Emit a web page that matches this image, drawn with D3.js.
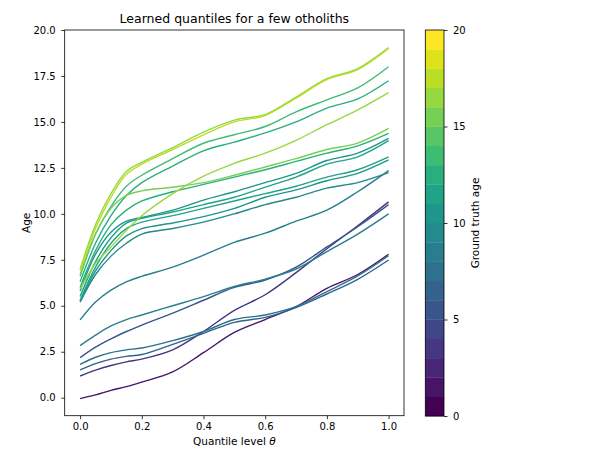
<!DOCTYPE html>
<html>
<head>
<meta charset="utf-8">
<script src="https://cdn.jsdelivr.net/npm/d3@7"></script>
<style>
  body { margin: 0; background: #fff; }
  text { font-family: "DejaVu Sans", sans-serif; fill: #000; }
</style>
</head>
<body>
<script>
var thetas = [0, 0.05, 0.1, 0.15, 0.2, 0.3, 0.4, 0.5, 0.6, 0.7, 0.8, 0.9, 1.0];

// ground truth age of each otolith (colour)
var ages = [1, 3, 5, 6, 7, 8, 8, 9, 10, 10, 11, 11, 12, 12, 13, 15, 16, 16, 17];

// predicted age per quantile level, one row per otolith
var quantiles = [
    [-0.05, 0.15, 0.4, 0.6, 0.85, 1.4, 2.45, 3.55, 4.25, 4.95, 5.95, 6.7, 7.8],
    [1.18, 1.5, 1.75, 1.95, 2.1, 2.6, 3.6, 4.75, 5.6, 6.8, 8.1, 9.35, 10.65],
    [2.18, 2.75, 3.2, 3.6, 3.95, 4.6, 5.3, 6.0, 6.4, 7.1, 8.2, 9.3, 10.5],
    [1.51, 1.85, 2.1, 2.25, 2.35, 2.9, 3.5, 4.1, 4.37, 4.9, 5.64, 6.44, 7.49],
    [1.81, 2.2, 2.45, 2.6, 2.7, 3.1, 3.6, 4.25, 4.5, 4.95, 5.77, 6.62, 7.72],
    [2.83, 3.4, 3.9, 4.25, 4.5, 5.0, 5.5, 6.05, 6.45, 7.0, 7.95, 8.9, 10.0],
    [4.23, 5.2, 5.85, 6.3, 6.6, 7.1, 7.75, 8.45, 8.95, 9.6, 10.2, 11.2, 12.35],
    [5.2, 6.7, 7.7, 8.4, 8.9, 9.2, 9.55, 10.0, 10.5, 10.9, 11.4, 11.7, 12.24],
    [5.8, 7.8, 9.0, 9.6, 9.8, 10.2, 10.75, 11.2, 11.7, 12.2, 12.9, 13.3, 14.1],
    [5.25, 6.9, 8.0, 8.8, 9.2, 9.5, 9.85, 10.3, 10.9, 11.3, 11.8, 12.2, 12.93],
    [5.5, 7.4, 8.7, 9.5, 9.75, 10.1, 10.5, 10.9, 11.45, 12.0, 12.7, 13.1, 13.98],
    [5.3, 7.1, 8.4, 9.2, 9.55, 9.9, 10.3, 10.7, 11.1, 11.5, 12.0, 12.4, 13.1],
    [6.0, 8.0, 9.4, 10.2, 10.7, 11.2, 11.6, 12.0, 12.4, 12.85, 13.3, 13.7, 14.38],
    [6.3, 8.4, 9.9, 11.0, 11.7, 12.6, 13.43, 13.9, 14.4, 15.0, 15.75, 16.25, 17.24],
    [6.6, 8.9, 10.4, 11.5, 12.1, 13.0, 13.84, 14.3, 14.75, 15.55, 16.2, 16.85, 18.0],
    [6.7, 8.9, 10.3, 11.0, 11.25, 11.45, 11.7, 12.1, 12.55, 13.0, 13.5, 13.85, 14.65],
    [5.9, 7.3, 8.2, 9.1, 9.9, 11.1, 12.05, 12.75, 13.3, 14.0, 14.85, 15.65, 16.59],
    [7.0, 9.4, 11.1, 12.3, 12.8, 13.6, 14.45, 15.1, 15.4, 16.35, 17.35, 17.9, 19.04],
    [6.9, 9.2, 10.9, 12.15, 12.7, 13.5, 14.3, 15.0, 15.35, 16.3, 17.3, 17.85, 19.0]
];

var xTicks = [0, 0.2, 0.4, 0.6, 0.8, 1.0];
var yTicks = [0, 2.5, 5, 7.5, 10, 12.5, 15, 17.5, 20];
var cbTicks = [0, 5, 10, 15, 20];
var nLevels = 20;

var svg = d3.select('body').append('svg')
    .attr('width', 603)
    .attr('height', 458);

var margin = { top: 30, left: 64.7, right: 404, bottom: 415.7 };

var x = d3.scaleLinear().domain([-0.05, 1.05]).range([margin.left, margin.right]);
var y = d3.scaleLinear().domain([-0.98, 20]).range([margin.bottom, margin.top]);

// discrete viridis, one colour per year of age
var color = function (a) {
    var k = Math.max(0, Math.min(nLevels - 1, Math.floor(a)));
    return d3.interpolateViridis(k / (nLevels - 1));
};

var line = d3.line()
    .x(function (d, i) { return x(thetas[i]); })
    .y(function (d) { return y(d); })
    .curve(d3.curveCatmullRom.alpha(0.5));

var plot = svg.append('g');
plot.selectAll('path.q').data(quantiles)
    .enter().append('path')
    .attr('class', 'q')
    .attr('d', line)
    .attr('fill', 'none')
    .attr('stroke', function (d, i) { return color(ages[i]); })
    .attr('stroke-width', 1.4);

// axes
var xAxis = svg.append('g')
    .attr('transform', 'translate(0,' + margin.bottom + ')')
    .call(d3.axisBottom(x).tickValues(xTicks).tickFormat(d3.format('.1f')).tickSize(3.5).tickPadding(4));
var yAxis = svg.append('g')
    .attr('transform', 'translate(' + margin.left + ',0)')
    .call(d3.axisLeft(y).tickValues(yTicks).tickFormat(d3.format('.1f')).tickSize(3.5).tickPadding(5.5));

[xAxis, yAxis].forEach(function (g) {
    g.select('.domain').remove();
    g.selectAll('text').attr('font-size', 10).attr('font-family', 'DejaVu Sans').attr('fill', '#000');
    g.selectAll('line').attr('stroke', '#000').attr('stroke-width', 0.8);
});

svg.append('rect')
    .attr('x', margin.left).attr('y', margin.top)
    .attr('width', margin.right - margin.left)
    .attr('height', margin.bottom - margin.top)
    .attr('fill', 'none')
    .attr('stroke', '#000')
    .attr('stroke-width', 0.8);

svg.append('text')
    .attr('x', (margin.left + margin.right) / 2).attr('y', 23)
    .attr('text-anchor', 'middle')
    .attr('font-size', 12.5)
    .text('Learned quantiles for a few otholiths');

var xl = svg.append('text')
    .attr('x', (margin.left + margin.right) / 2).attr('y', 444.5)
    .attr('text-anchor', 'middle')
    .attr('font-size', 10.5);
xl.append('tspan').text('Quantile level ');
xl.append('tspan').attr('font-style', 'italic').text('θ');

svg.append('text')
    .attr('transform', 'translate(30,' + ((margin.top + margin.bottom) / 2) + ') rotate(-90)')
    .attr('text-anchor', 'middle')
    .attr('font-size', 10.5)
    .text('Age');

// colorbar
var cb = { left: 425.3, right: 444, top: 30, bottom: 416 };
var yc = d3.scaleLinear().domain([0, nLevels]).range([cb.bottom, cb.top]);

svg.append('g').selectAll('rect').data(d3.range(nLevels))
    .enter().append('rect')
    .attr('x', cb.left)
    .attr('y', function (d) { return yc(d + 1); })
    .attr('width', cb.right - cb.left)
    .attr('height', function (d) { return yc(d) - yc(d + 1) + 0.3; })
    .attr('fill', function (d) { return color(d); });

svg.append('rect')
    .attr('x', cb.left).attr('y', cb.top)
    .attr('width', cb.right - cb.left)
    .attr('height', cb.bottom - cb.top)
    .attr('fill', 'none')
    .attr('stroke', '#000')
    .attr('stroke-width', 0.8);

var cAxis = svg.append('g')
    .attr('transform', 'translate(' + cb.right + ',0)')
    .call(d3.axisRight(yc).tickValues(cbTicks).tickFormat(d3.format('d')).tickSize(3.5).tickPadding(5.5));
cAxis.select('.domain').remove();
cAxis.selectAll('text').attr('font-size', 10).attr('font-family', 'DejaVu Sans').attr('fill', '#000');
cAxis.selectAll('line').attr('stroke', '#000').attr('stroke-width', 0.8);

svg.append('text')
    .attr('transform', 'translate(479,' + ((cb.top + cb.bottom) / 2) + ') rotate(-90)')
    .attr('text-anchor', 'middle')
    .attr('font-size', 10.5)
    .text('Ground truth age');
</script>
</body>
</html>
